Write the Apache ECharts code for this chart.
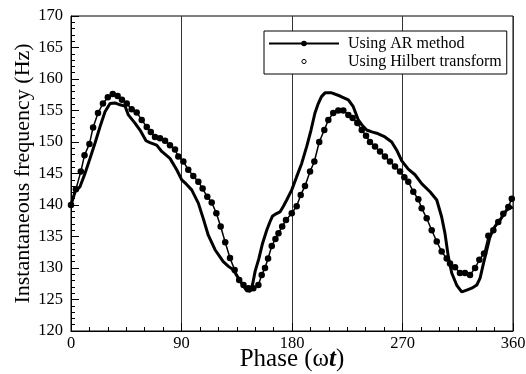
<!DOCTYPE html>
<html>
<head>
<meta charset="utf-8">
<script src="https://cdn.jsdelivr.net/npm/echarts@6/dist/echarts.min.js"></script>
<style>
html,body{margin:0;padding:0;background:#fff;}
#chart{width:526px;height:374px;}
</style>
</head>
<body>
<div id="chart"></div>
<script>
// Phase (deg) and frequency (Hz)
var arPhase = [0,4,8,11,15,18,22,26,30,34,38,41.5,45.4,49.4,53.5,57.6,61.7,65,68.4,72.5,76.6,80.6,84.7,87.4,91.5,95.5,99.6,103.7,107.2,111,114.6,118.4,121.9,125.6,129.5,133.3,137,140.5,144.4,148.5,152.6,155.3,158,160.5,163.5,166.5,169,172,175.1,179.8,183.8,187.1,190.6,194.7,198.2,202.2,206.3,209.6,213.6,217.7,221.8,225.9,229.4,233.2,236.8,240.3,243.5,247.6,251.7,255.7,259.8,263.9,268,271.5,274.7,278.8,282.9,285.6,289.7,293.8,297.9,301.9,306,308.7,312.8,316.8,320.9,325,329.1,332.6,336.4,339.9,344,348,352.1,356.2,359];
var arFreq = [140.0,142.5,145.3,147.9,149.7,152.3,154.6,156.1,157.1,157.6,157.3,156.7,156.1,155.2,154.7,153.5,152.4,151.6,150.8,150.6,150.2,149.5,148.8,147.7,146.9,145.6,144.6,143.7,142.6,141.3,140.4,138.7,136.6,134.1,131.6,129.7,128.1,127.3,126.8,126.8,127.3,128.9,130.0,131.5,133.5,134.6,135.5,136.6,137.6,138.7,139.8,141.6,143.0,145.3,146.9,150.0,151.9,153.5,154.6,155.0,155.0,154.3,153.8,153.0,151.9,151.0,150.0,149.3,148.5,147.7,146.9,146.1,145.3,144.4,143.7,142.1,140.9,139.5,137.9,136.0,134.2,132.6,131.5,130.7,130.1,129.2,129.2,128.9,130.0,131.3,132.3,135.1,136.0,137.3,138.6,139.7,141.0];

var hilPhase = [0,3.3,7.3,11.4,15.5,19.5,23.6,27.7,31.8,35.8,39.9,44,46.7,52.1,56.2,61.1,64.3,69.8,73.9,80.6,86.1,90.2,94,98.3,103.7,107.8,111.8,117.3,124,128,132.2,136.3,140,143,146,148,150,153,156,159.4,162,164,167,170.2,173,175.7,179.8,183.8,187.9,192,195.5,198.7,201.4,204,206.9,212.3,219.1,225.9,229.9,234,237,240.8,245,249,255.7,261.2,265.3,269.4,274.7,280.2,285.6,292.4,297.9,301.9,304.6,307.3,310.1,314.1,318.2,322.3,326.4,330.5,333.2,335.9,338.7,341.3,345.3,349.4,354.9,359.8];
var hilFreq = [140.0,142.1,142.9,145.0,147.4,149.8,152.4,154.8,156.1,156.2,155.9,155.7,154.3,153.0,151.9,150.2,149.9,149.5,148.5,147.4,145.6,144.0,143.3,142.4,140.3,137.8,135.2,132.9,131.0,130.3,129.7,128.4,127.3,126.4,126.3,127.5,129.5,131.5,133.9,136.0,137.3,138.2,138.6,138.9,139.8,140.8,142.4,144.5,146.6,149.3,151.9,154.6,156.1,157.2,157.8,157.8,157.3,156.7,155.6,153.5,152.7,151.9,151.6,151.4,150.8,150.0,148.7,147.0,145.7,144.8,143.4,142.1,140.8,138.1,135.5,131.8,129.2,127.3,126.2,126.5,126.8,127.3,128.4,130.7,132.9,135.0,136.6,137.6,139.2,139.7];

var xTicks = [0,90,180,270,360];
var yTicks = [120,125,130,135,140,145,150,155,160,165,170];

function pairs(xs, ys){ return xs.map(function(x,i){ return [x, ys[i]]; }); }

var FONT = 'Liberation Serif';
// small open circle legend icon (padded bounding box keeps it small)
var smallCircle = 'path://M0,0L0,0M10,10L10,10M8,5A3,3,0,1,1,2,5A3,3,0,1,1,8,5Z';
var chart = echarts.init(document.getElementById('chart'), null, {renderer:'canvas'});
chart.setOption({
  animation:false,
  backgroundColor:'#fff',
  grid:{left:71, right:13, top:16, bottom:43, show:true, borderColor:'#000', borderWidth:1, backgroundColor:'transparent', containLabel:false, outerBoundsMode:'none'},
  legend:{
    orient:'vertical', left:264, top:31,
    padding:[4,5,4,4],
    borderColor:'#000', borderWidth:1, backgroundColor:'#fff',
    itemWidth:70, itemHeight:7, itemGap:1,
    textStyle:{fontFamily:FONT, fontSize:16, color:'#000', lineHeight:17, padding:[0,0,0,4]},
    data:[
      {name:'Using AR method'},
      {name:'Using Hilbert transform', icon:smallCircle, itemStyle:{color:'#fff', borderColor:'#000', borderWidth:1}}
    ]
  },
  xAxis:{
    type:'value', min:xTicks[0], max:xTicks[xTicks.length-1], interval:90,
    name:'Phase (ω{t|t})', nameLocation:'middle', nameGap:16, nameMoveOverlap:false,
    nameTextStyle:{fontFamily:FONT, fontSize:25, color:'#000', rich:{t:{fontFamily:FONT, fontSize:25, fontStyle:'italic', fontWeight:'bold', color:'#000'}}},
    axisLine:{show:true, lineStyle:{color:'#000', width:1}},
    axisTick:{show:true, inside:true, length:8, lineStyle:{color:'#000'}},
    minorTick:{show:true, splitNumber:6, length:4, lineStyle:{color:'#000'}},
    splitLine:{show:true, lineStyle:{color:'#333', width:1}},
    axisLabel:{fontFamily:FONT, fontSize:16.5, color:'#000', margin:4}
  },
  yAxis:{
    type:'value', min:yTicks[0], max:yTicks[yTicks.length-1], interval:5,
    name:'Instantaneous frequency (Hz)', nameLocation:'middle', nameGap:37, nameMoveOverlap:false,
    nameTextStyle:{fontFamily:FONT, fontSize:22, color:'#000'},
    axisLine:{show:true, lineStyle:{color:'#000', width:1}},
    axisTick:{show:true, inside:true, length:8, lineStyle:{color:'#000'}},
    minorTick:{show:true, splitNumber:5, length:4, lineStyle:{color:'#000'}},
    splitLine:{show:false},
    axisLabel:{fontFamily:FONT, fontSize:16.5, color:'#000', margin:8}
  },
  series:[
    {
      name:'Using AR method', type:'line', data:pairs(arPhase, arFreq),
      symbol:'circle', symbolSize:6.5, showSymbol:true,
      lineStyle:{color:'#000', width:1.5}, itemStyle:{color:'#000'}, z:3
    },
    {
      name:'Using Hilbert transform', type:'line', data:pairs(hilPhase, hilFreq),
      symbol:'circle', symbolSize:3, showSymbol:false,
      lineStyle:{color:'#000', width:3}, itemStyle:{color:'#fff', borderColor:'#000', borderWidth:1}, z:2
    }
  ]
});
</script>
</body>
</html>
